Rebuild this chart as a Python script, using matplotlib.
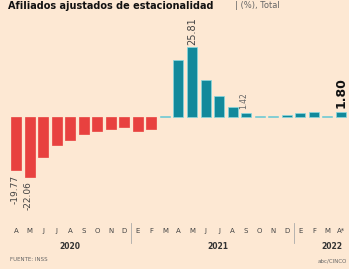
import matplotlib
matplotlib.use("Agg")
import matplotlib.pyplot as plt
from matplotlib.transforms import blended_transform_factory
from matplotlib.lines import Line2D

months = ["A", "M", "J", "J", "A", "S", "O", "N", "D",
          "E", "F", "M", "A", "M", "J", "J", "A", "S", "O", "N", "D",
          "E", "F", "M", "A*"]
values = [-19.77, -22.06, -14.8, -10.5, -8.6, -6.2, -5.2, -4.3, -3.7,
          -5.2, -4.3, 0.3, 21.1, 25.81, 13.7, 7.8, 3.7, 1.42, 0.3, 0.3, 0.9,
          1.4, 1.7, 0.4, 1.80]
years = ["2020", "2021", "2022"]
year_pos = [4.0, 14.9, 23.3]
separators = [8.5, 20.5]
labelled = {0: "-19.77", 1: "-22.06", 13: "25.81", 17: "1.42", 24: "1.80"}

BG = "#fde8d3"
RED = "#e8413f"
TEAL = "#12899b"

fig = plt.figure(figsize=(3.49, 2.69), dpi=100, facecolor=BG)
ax = fig.add_axes([0.0264, 0.264, 0.970, 0.652])
ax.set_facecolor(BG)

x = list(range(len(values)))
colors = [RED if v < 0 else TEAL for v in values]
edges = [RED if v < 0 else "#86d9e0" for v in values]
ax.bar(x, values, width=0.74, color=colors, edgecolor=edges, linewidth=0.5)

ax.set_xlim(-0.5, len(values) - 0.5)
ax.set_ylim(-30, 35)
ax.axis("off")

# value labels
for i, txt in labelled.items():
    v = values[i]
    if v < 0:
        ax.annotate(txt, (i, v), xytext=(-1, -3), textcoords="offset points",
                    rotation=90, ha="center", va="top", fontsize=6.5, color="#444444")
    elif i == 24:
        ax.annotate(txt, (i, v), xytext=(0, 3), textcoords="offset points",
                    rotation=90, ha="center", va="bottom", fontsize=9,
                    fontweight="bold", color="#111111")
    elif i == 17:
        ax.annotate(txt, (i, v), xytext=(-2, 3), textcoords="offset points",
                    rotation=90, ha="center", va="bottom", fontsize=5.5, color="#666666")
    else:
        ax.annotate(txt, (i, v), xytext=(0, 2), textcoords="offset points",
                    rotation=90, ha="center", va="bottom", fontsize=7, color="#444444")

trans = blended_transform_factory(ax.transData, fig.transFigure)
for i, m in enumerate(months):
    fig.text(i, 0.141, m, transform=trans, ha="center", va="center",
             fontsize=5, color="#444444")
for p, y in zip(year_pos, years):
    fig.text(p, 0.085, y, transform=trans, ha="center", va="center",
             fontsize=5.5, fontweight="bold", color="#333333")
for s in separators:
    fig.add_artist(Line2D([s, s], [0.097, 0.172], transform=trans,
                          color="#aaaaaa", linewidth=0.6, clip_on=False))

# title
fig.text(0.022, 0.998, "Afiliados ajustados de estacionalidad", ha="left", va="top",
         fontsize=7, fontweight="bold", color="#111111")
fig.text(0.672, 0.998, "| (%), Total", ha="left", va="top",
         fontsize=6, color="#666666")

# footer
fig.text(0.03, 0.035, "FUENTE: INSS", ha="left", va="center", fontsize=4, color="#666666")
fig.text(0.995, 0.028, "abc/CINCO", ha="right", va="center", fontsize=4, color="#666666")

fig.savefig("out.png", dpi=100, facecolor=BG)
